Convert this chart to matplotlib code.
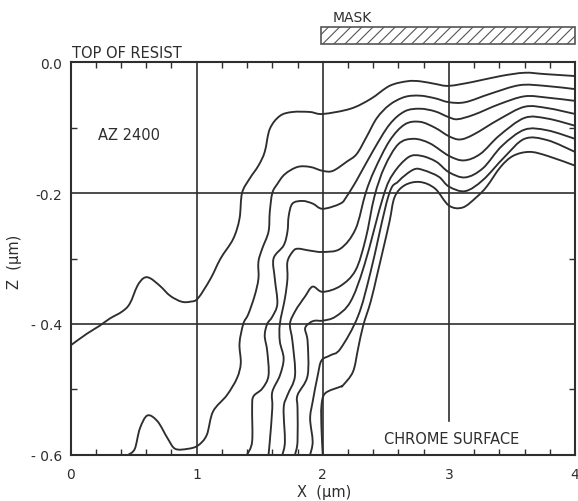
import numpy as np
import matplotlib
matplotlib.use('Agg')
import matplotlib.pyplot as plt
from matplotlib.patches import Rectangle, PathPatch
from matplotlib.path import Path

plt.rcParams['font.family'] = 'DejaVu Sans'
plt.rcParams['hatch.linewidth'] = 0.8

# developed resist profiles, x in um, z in um (0 = top of resist)
c1_x = [0, 0.13, 0.23, 0.31, 0.41, 0.47, 0.53, 0.58, 0.63, 0.71, 0.79, 0.88, 0.95, 1.01,
        1.11, 1.19, 1.29, 1.34, 1.36, 1.42, 1.49, 1.54, 1.58, 1.66, 1.76, 1.90, 2.00,
        2.22, 2.38, 2.53, 2.67, 2.77, 2.89, 3.00, 3.19, 3.41, 3.60, 3.76, 4.00]
c1_z = [-0.433, -0.415, -0.403, -0.392, -0.381, -0.369, -0.342, -0.330, -0.330, -0.342, -0.357,
        -0.366, -0.366, -0.361, -0.331, -0.300, -0.270, -0.239, -0.200, -0.178, -0.158, -0.137,
        -0.102, -0.082, -0.076, -0.076, -0.079, -0.071, -0.056, -0.036, -0.029, -0.029, -0.033,
        -0.036, -0.030, -0.021, -0.016, -0.018, -0.021]

c2_x = [0.46, 0.51, 0.55, 0.61, 0.69, 0.77, 0.83, 0.93, 1.01, 1.08, 1.13, 1.24, 1.32, 1.35,
        1.34, 1.37, 1.41, 1.46, 1.49, 1.49, 1.52, 1.57, 1.58, 1.60, 1.64, 1.70, 1.80, 1.90,
        2.00, 2.08, 2.19, 2.27, 2.35, 2.43, 2.53, 2.65, 2.77, 2.89, 3.00, 3.13, 3.33, 3.56,
        3.76, 4.00]
c2_z = [-0.600, -0.591, -0.560, -0.540, -0.549, -0.575, -0.591, -0.591, -0.586, -0.570, -0.534,
        -0.509, -0.483, -0.460, -0.430, -0.400, -0.385, -0.357, -0.331, -0.305, -0.285, -0.259,
        -0.229, -0.200, -0.186, -0.171, -0.160, -0.160, -0.166, -0.166, -0.152, -0.140, -0.113,
        -0.085, -0.065, -0.053, -0.051, -0.055, -0.061, -0.061, -0.048, -0.035, -0.036, -0.041]

c3_x = [1.40, 1.44, 1.44, 1.45, 1.52, 1.57, 1.56, 1.54, 1.56, 1.60, 1.64, 1.62, 1.61, 1.69,
        1.72, 1.73, 1.76, 1.84, 1.92, 2.00, 2.14, 2.19, 2.27, 2.40, 2.53, 2.65, 2.77, 2.89,
        3.00, 3.07, 3.20, 3.40, 3.60, 3.78, 4.00]
c3_z = [-0.600, -0.580, -0.529, -0.511, -0.499, -0.479, -0.442, -0.418, -0.400, -0.389, -0.369,
        -0.331, -0.300, -0.280, -0.259, -0.235, -0.216, -0.212, -0.216, -0.224, -0.216, -0.205,
        -0.180, -0.135, -0.095, -0.075, -0.071, -0.075, -0.084, -0.087, -0.080, -0.064, -0.052,
        -0.054, -0.059]

c4_x = [1.57, 1.58, 1.60, 1.60, 1.66, 1.69, 1.66, 1.66, 1.70, 1.72, 1.72, 1.76, 1.80, 1.90,
        2.00, 2.14, 2.26, 2.34, 2.41, 2.53, 2.65, 2.77, 2.89, 3.00, 3.09, 3.20, 3.40, 3.60,
        3.78, 4.00]
c4_z = [-0.600, -0.580, -0.529, -0.504, -0.479, -0.453, -0.427, -0.400, -0.361, -0.331, -0.305,
        -0.290, -0.285, -0.288, -0.290, -0.285, -0.255, -0.200, -0.165, -0.120, -0.095, -0.091,
        -0.100, -0.113, -0.118, -0.110, -0.087, -0.068, -0.070, -0.079]

c5_x = [1.68, 1.70, 1.69, 1.72, 1.78, 1.76, 1.74, 1.78, 1.82, 1.86, 1.92, 2.00, 2.14, 2.26,
        2.34, 2.41, 2.49, 2.60, 2.72, 2.85, 3.00, 3.12, 3.25, 3.40, 3.60, 3.78, 4.00]
c5_z = [-0.600, -0.580, -0.529, -0.509, -0.479, -0.427, -0.400, -0.381, -0.369, -0.358, -0.343,
        -0.351, -0.342, -0.318, -0.270, -0.205, -0.160, -0.125, -0.117, -0.124, -0.143, -0.150,
        -0.140, -0.112, -0.085, -0.086, -0.097]

c6_x = [1.78, 1.80, 1.80, 1.80, 1.88, 1.88, 1.86, 1.90, 1.94, 2.00, 2.10, 2.22, 2.33, 2.48,
        2.56, 2.68, 2.78, 2.90, 3.00, 3.13, 3.27, 3.42, 3.60, 3.78, 4.00]
c6_z = [-0.600, -0.580, -0.529, -0.509, -0.479, -0.427, -0.407, -0.398, -0.395, -0.395, -0.389,
        -0.366, -0.310, -0.205, -0.170, -0.145, -0.143, -0.152, -0.168, -0.176, -0.162, -0.128,
        -0.103, -0.104, -0.117]

c7_x = [1.90, 1.92, 1.90, 1.92, 1.96, 1.99, 2.06, 2.14, 2.28, 2.38, 2.52, 2.60, 2.72, 2.80,
        2.92, 3.00, 3.13, 3.27, 3.44, 3.60, 3.78, 4.00]
c7_z = [-0.600, -0.580, -0.545, -0.519, -0.479, -0.456, -0.448, -0.438, -0.388, -0.320, -0.205,
        -0.182, -0.164, -0.165, -0.175, -0.190, -0.197, -0.180, -0.145, -0.117, -0.119, -0.137]

c8_x = [2.00, 1.99, 1.99, 2.02, 2.14, 2.16, 2.24, 2.28, 2.32, 2.38, 2.43, 2.48, 2.53, 2.57,
        2.65, 2.77, 2.89, 3.00, 3.11, 3.22, 3.30, 3.41, 3.51, 3.64, 3.78, 4.00]
c8_z = [-0.600, -0.560, -0.525, -0.506, -0.496, -0.494, -0.473, -0.438, -0.403, -0.366, -0.326,
        -0.285, -0.243, -0.206, -0.188, -0.183, -0.193, -0.219, -0.222, -0.206, -0.190, -0.160,
        -0.143, -0.137, -0.143, -0.158]

profiles = [(c1_x, c1_z), (c2_x, c2_z), (c3_x, c3_z), (c4_x, c4_z),
            (c5_x, c5_z), (c6_x, c6_z), (c7_x, c7_z), (c8_x, c8_z)]

x_ticks = [0, 1, 2, 3, 4]
x_labels = ['0', '1', '2', '3', '4']
z_ticks = [0.0, -0.2, -0.4, -0.6]
z_labels = ['0.0', '-0.2', '- 0.4', '- 0.6']
x_minor = [0.2, 0.4, 0.6, 0.8, 1.2, 1.4, 1.6, 1.8, 2.2, 2.4, 2.6, 2.8, 3.2, 3.4, 3.6, 3.8]
z_minor = [-0.1, -0.3, -0.5]
grid_x = [1, 2]
grid_z = [-0.2, -0.4]
mask_x = (1.99, 4.0)
mask_z = (0.028, 0.054)

ink = '#2e2e2e'


def smooth_path(xs, zs):
    # cubic bezier segments through the profile points (catmull-rom tangents)
    p = np.column_stack([xs, zs]).astype(float)
    n = len(p)
    verts = [p[0]]
    codes = [Path.MOVETO]
    for i in range(n - 1):
        p0 = p[i - 1] if i > 0 else p[i]
        p1 = p[i]
        p2 = p[i + 1]
        p3 = p[i + 2] if i + 2 < n else p[i + 1]
        verts += [p1 + (p2 - p0) / 6.0, p2 - (p3 - p1) / 6.0, p2]
        codes += [Path.CURVE4] * 3
    return Path(verts, codes)


fig = plt.figure(figsize=(5.78, 5.02), dpi=100)
ax = fig.add_axes([70.5 / 578, 46.3 / 502, 504.5 / 578, 392.4 / 502])
ax.set_xlim(0, 4)
ax.set_ylim(-0.6, 0)

for gx in grid_x:
    ax.axvline(gx, color=ink, lw=1.2, zorder=1)
# the x = 3 line stops above the chrome surface label
ax.axvline(3, ymin=0.085, ymax=1, color=ink, lw=1.2, zorder=1)
for gz in grid_z:
    ax.axhline(gz, color=ink, lw=1.2, zorder=1)

for xs, zs in profiles:
    ax.add_patch(PathPatch(smooth_path(xs, zs), fill=False, edgecolor=ink, lw=1.35,
                           joinstyle='round', capstyle='round', zorder=2))

for s in ax.spines.values():
    s.set_linewidth(1.5)
    s.set_color(ink)

ax.set_xticks(x_ticks)
ax.set_xticklabels(x_labels)
ax.set_yticks(z_ticks)
ax.set_yticklabels(z_labels)
ax.set_xticks(x_minor, minor=True)
ax.set_yticks(z_minor, minor=True)
ax.tick_params(which='major', length=0, labelsize=10, colors=ink)
ax.tick_params(axis='x', which='major', pad=9)
ax.tick_params(axis='y', which='major', pad=6)
ax.tick_params(which='minor', direction='in', length=4, width=1.0, color=ink,
               top=True, right=True)

mask = Rectangle((mask_x[0], mask_z[0]), mask_x[1] - mask_x[0], mask_z[1] - mask_z[0],
                 facecolor='white', edgecolor='#555555', lw=1.2, hatch='///', clip_on=False)
ax.add_patch(mask)

ax.text(2.08, 0.070, 'MASK', fontsize=10, color=ink, ha='left', va='center', clip_on=False)
ax.text(0.01, 0.015, 'TOP OF RESIST', fontsize=10.5, color=ink, ha='left', va='center',
        clip_on=False)
ax.text(0.22, -0.110, 'AZ 2400', fontsize=10.5, color=ink, ha='left', va='center')
ax.text(3.02, -0.575, 'CHROME SURFACE', fontsize=10.5, color=ink, ha='center', va='center')

fig.text(324 / 578, 1 - 493 / 502, 'X  (\u03bcm)', fontsize=10.5, color=ink,
         ha='center', va='center')
fig.text(15 / 578, 1 - 262 / 502, 'Z  (\u03bcm)', fontsize=10.5, color=ink,
         ha='center', va='center', rotation=90)

fig.savefig('out.png', dpi=100, facecolor='white')
